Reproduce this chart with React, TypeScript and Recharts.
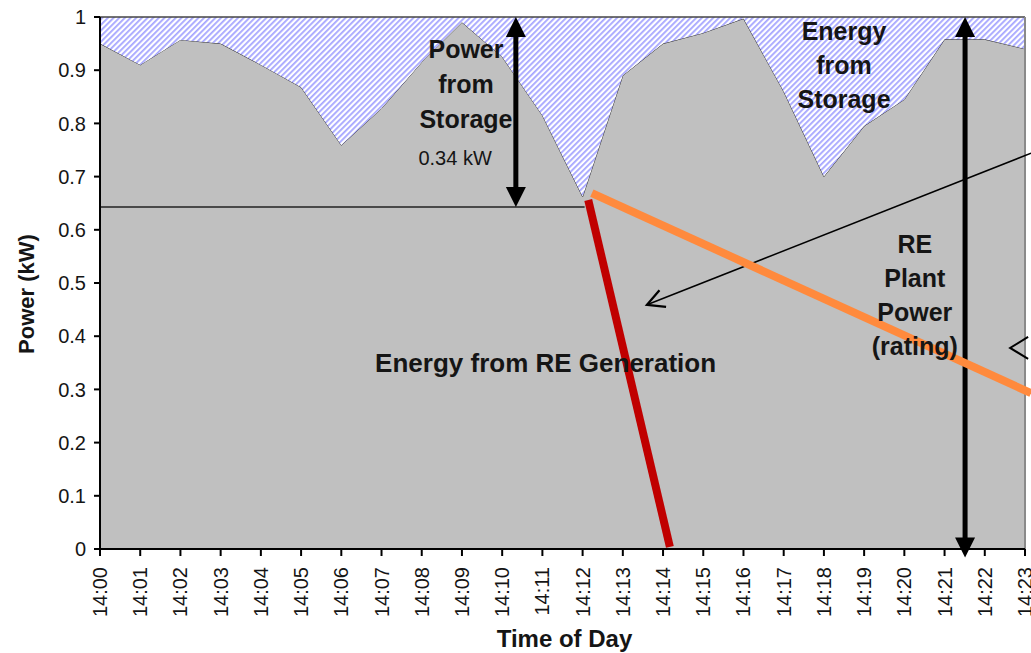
import React from 'react';
import {
  ComposedChart,
  Area,
  XAxis,
  YAxis,
  ReferenceLine,
  ReferenceDot,
} from 'recharts';

// time axis categories (one per minute)
const times = [
  '14:00', '14:01', '14:02', '14:03', '14:04', '14:05', '14:06', '14:07',
  '14:08', '14:09', '14:10', '14:11', '14:12', '14:13', '14:14', '14:15',
  '14:16', '14:17', '14:18', '14:19', '14:20', '14:21', '14:22', '14:23',
];

// RE generation power (kW)
const power = [
  0.95, 0.91, 0.957, 0.95, 0.91, 0.868, 0.759, 0.828, 0.915, 0.99, 0.925, 0.815,
  0.662, 0.89, 0.95, 0.97, 0.997, 0.86, 0.7, 0.795, 0.845, 0.958, 0.958, 0.94,
];

const yTicks = [0, 0.1, 0.2, 0.3, 0.4, 0.5, 0.6, 0.7, 0.8, 0.9, 1];
const rating = 1;
const baseLevel = 0.643;

// chart table: gray area = generation, hatched = gap up to the plant rating
const data = times.map((_, i) => ({ t: i, power: power[i], storage: rating - power[i] }));

const FONT = '"Liberation Sans", Arial, sans-serif';
const INK = '#151515';

type ArrowOpts = {
  width: number;
  color: string;
  head: 'end' | 'both';
  filled: boolean;
  headLen: number;
  headW: number;
  shaft?: boolean;
};

// draws a line with arrow heads from the reference line end points
const arrowShape = (o: ArrowOpts) => (p: any) => {
  const { x1, y1, x2, y2 } = p;
  const dx = x2 - x1;
  const dy = y2 - y1;
  const len = Math.sqrt(dx * dx + dy * dy) || 1;
  const ux = dx / len;
  const uy = dy / len;
  const nx = -uy;
  const ny = ux;
  const heads: React.ReactNode[] = [];
  const mk = (tx: number, ty: number, sx: number, sy: number, key: string) => {
    const bx = tx - sx * o.headLen;
    const by = ty - sy * o.headLen;
    const a = `${bx + nx * o.headW / 2},${by + ny * o.headW / 2}`;
    const b = `${bx - nx * o.headW / 2},${by - ny * o.headW / 2}`;
    if (o.filled) {
      heads.push(<polygon key={key} points={`${tx},${ty} ${a} ${b}`} fill={o.color} />);
    } else {
      heads.push(
        <polyline key={key} points={`${a} ${tx},${ty} ${b}`} fill="none" stroke={o.color} strokeWidth={o.width + 0.8} />
      );
    }
  };
  let sx1 = x1, sy1 = y1, sx2 = x2, sy2 = y2;
  mk(x2, y2, ux, uy, 'e');
  if (o.filled) { sx2 = x2 - ux * (o.headLen - 1); sy2 = y2 - uy * (o.headLen - 1); }
  if (o.head === 'both') {
    mk(x1, y1, -ux, -uy, 's');
    if (o.filled) { sx1 = x1 + ux * (o.headLen - 1); sy1 = y1 + uy * (o.headLen - 1); }
  }
  return (
    <g>
      {o.shaft !== false && (
        <line x1={sx1} y1={sy1} x2={sx2} y2={sy2} stroke={o.color} strokeWidth={o.width} />
      )}
      {heads}
    </g>
  );
};

// multi-line text placed at a data coordinate
const textShape = (lines: string[], opts: { size: number; bold: boolean; gap: number }) => (p: any) => (
  <text
    x={p.cx}
    y={p.cy}
    textAnchor="middle"
    fontFamily={FONT}
    fontSize={opts.size}
    fontWeight={opts.bold ? 'bold' : 'normal'}
    fill={INK}
  >
    {lines.map((l, i) => (
      <tspan key={i} x={p.cx} dy={i === 0 ? 0 : opts.gap}>
        {l}
      </tspan>
    ))}
  </text>
);

const XTick = (props: any) => {
  const { x, y, payload } = props;
  return (
    <text
      transform={`translate(${x + 7}, ${y + 9}) rotate(-90)`}
      textAnchor="end"
      fontFamily={FONT}
      fontSize={20}
      fill={INK}
    >
      {times[payload.value]}
    </text>
  );
};

export default function App() {
  return (
    <div style={{ position: 'absolute', left: 0, top: 0, background: '#fff' }}>
      <svg width={0} height={0} style={{ position: 'absolute' }}>
        <defs>
          <pattern id="hatch" patternUnits="userSpaceOnUse" width={4} height={4} patternTransform="rotate(45)">
            <rect width={4} height={4} fill="#ffffff" />
            <rect width={1.8} height={4} fill="#a6a6ff" />
          </pattern>
        </defs>
      </svg>
      <ComposedChart
        width={1031}
        height={653}
        data={data}
        margin={{ top: 17, right: 6, bottom: 0, left: 0 }}
      >
        <XAxis
          dataKey="t"
          type="number"
          domain={[0, 23]}
          ticks={times.map((_, i) => i)}
          interval={0}
          allowDataOverflow
          height={104}
          tickSize={7}
          tick={<XTick />}
          axisLine={{ stroke: '#000', strokeWidth: 2 }}
          tickLine={{ stroke: '#000', strokeWidth: 2 }}
          label={{
            content: (p: any) => (
              <text
                x={p.viewBox.x + p.viewBox.width / 2 + 2}
                y={p.viewBox.y + 98}
                textAnchor="middle"
                fontFamily={FONT}
                fontSize={24}
                fontWeight="bold"
                fill={INK}
              >
                Time of Day
              </text>
            ),
          }}
        />
        <YAxis
          type="number"
          domain={[0, 1]}
          ticks={yTicks}
          interval={0}
          allowDataOverflow
          width={100}
          tickSize={6}
          tickMargin={8}
          tick={{ fontFamily: FONT, fontSize: 20, fill: INK }}
          axisLine={{ stroke: '#000', strokeWidth: 2 }}
          tickLine={{ stroke: '#000', strokeWidth: 2 }}
          label={{
            content: (p: any) => (
              <text
                transform={`translate(${p.viewBox.x + 34}, ${p.viewBox.y + p.viewBox.height / 2 + 11}) rotate(-90)`}
                textAnchor="middle"
                fontFamily={FONT}
                fontSize={22}
                fontWeight="bold"
                fill={INK}
              >
                Power (kW)
              </text>
            ),
          }}
        />
        <Area
          dataKey="power"
          stackId="a"
          type="linear"
          fill="#c0c0c0"
          fillOpacity={1}
          stroke="#333"
          strokeWidth={1}
          dot={false}
          activeDot={false}
          isAnimationActive={false}
        />
        <Area
          dataKey="storage"
          stackId="a"
          type="linear"
          fill="url(#hatch)"
          fillOpacity={1}
          stroke="none"
          dot={false}
          activeDot={false}
          isAnimationActive={false}
        />
        <ReferenceLine y={rating} stroke="#444" strokeWidth={1.5} ifOverflow="visible" />
        <ReferenceLine x={23} stroke="#8a8a8a" strokeWidth={2} ifOverflow="visible" />
        <ReferenceLine
          segment={[{ x: 0, y: baseLevel }, { x: 12.05, y: baseLevel }]}
          stroke="#222"
          strokeWidth={1.5}
          ifOverflow="visible"
        />

        {/* power from storage arrow */}
        <ReferenceLine
          segment={[{ x: 10.34, y: baseLevel }, { x: 10.34, y: rating }]}
          ifOverflow="visible"
          shape={arrowShape({ width: 5, color: '#000', head: 'both', filled: true, headLen: 20, headW: 20 })}
        />
        {/* plant rating arrow */}
        <ReferenceLine
          segment={[{ x: 21.51, y: -0.016 }, { x: 21.51, y: rating }]}
          ifOverflow="visible"
          shape={arrowShape({ width: 5, color: '#000', head: 'both', filled: true, headLen: 20, headW: 20 })}
        />
        {/* pointer arrows */}
        <ReferenceLine
          segment={[{ x: 23.15, y: 0.744 }, { x: 13.6, y: 0.459 }]}
          ifOverflow="visible"
          shape={arrowShape({ width: 1.5, color: '#000', head: 'end', filled: false, headLen: 17, headW: 18 })}
        />
        <ReferenceLine
          segment={[{ x: 23.15, y: 0.378 }, { x: 22.63, y: 0.378 }]}
          ifOverflow="visible"
          shape={arrowShape({ width: 1.2, color: '#000', head: 'end', filled: false, headLen: 18, headW: 22, shaft: false })}
        />

        {/* red and orange slopes */}
        <ReferenceLine
          segment={[{ x: 12.14, y: 0.656 }, { x: 14.17, y: 0.004 }]}
          stroke="#c00000"
          strokeWidth={8}
          ifOverflow="visible"
        />
        <ReferenceLine
          segment={[{ x: 12.23, y: 0.669 }, { x: 23.15, y: 0.293 }]}
          stroke="#ff8a3d"
          strokeWidth={8}
          ifOverflow="visible"
        />

        {/* annotations */}
        <ReferenceDot
          x={9.1}
          y={0.923}
          r={0}
          ifOverflow="visible"
          shape={textShape(['Power', 'from', 'Storage'], { size: 25, bold: true, gap: 35 })}
        />
        <ReferenceDot
          x={8.83}
          y={0.722}
          r={0}
          ifOverflow="visible"
          shape={textShape(['0.34 kW'], { size: 20, bold: false, gap: 0 })}
        />
        <ReferenceDot
          x={18.5}
          y={0.957}
          r={0}
          ifOverflow="visible"
          shape={textShape(['Energy', 'from', 'Storage'], { size: 25, bold: true, gap: 34 })}
        />
        <ReferenceDot
          x={11.08}
          y={0.333}
          r={0}
          ifOverflow="visible"
          shape={textShape(['Energy from RE Generation'], { size: 26, bold: true, gap: 0 })}
        />
        <ReferenceDot
          x={20.26}
          y={0.556}
          r={0}
          ifOverflow="visible"
          shape={textShape(['RE', 'Plant', 'Power', '(rating)'], { size: 25, bold: true, gap: 34 })}
        />
      </ComposedChart>
    </div>
  );
}
